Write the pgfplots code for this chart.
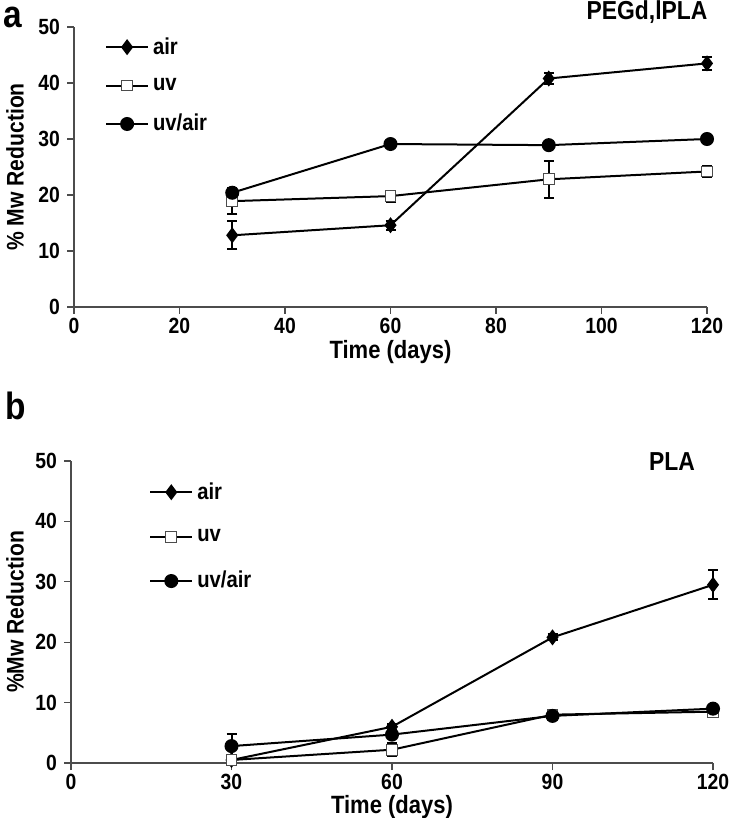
\documentclass[border=0pt]{standalone}
\usepackage{fontspec}
\setmainfont{Liberation Sans}[FakeStretch=0.88]
\usepackage{pgfplots}
\pgfplotsset{compat=1.18}
\pgfplotsset{
  mystyle/.style={
    scale only axis,
    xmin=0, xmax=120, ymin=0, ymax=50,
    axis x line=bottom, axis y line=left,
    axis line style={-, draw=gray!60!black, line width=0.6pt},
    tick align=outside,
    major tick length=3.5pt,
    tick style={draw=gray!60!black, line width=0.6pt},
    ytick={0,10,...,50},
    /pgf/number format/assume math mode=true,
    ticklabel style={font=\fontsize{11}{13}\selectfont\bfseries},
    xticklabel style={yshift=1.5pt},
    every axis x label/.style={at={(rel axis cs:0.5,0)}, anchor=center, font=\fontsize{12.5}{14}\selectfont\bfseries},
    every axis y label/.style={at={(rel axis cs:0,0.5)}, anchor=center, rotate=90, font=\fontsize{12}{14}\selectfont\bfseries},
    legend style={draw=none, fill=none, font=\fontsize{11.5}{13}\selectfont\bfseries, anchor=north west,
      legend cell align=left},
    legend image code/.code={
      \draw[#1] (0pt,0pt) -- (21pt,0pt);
      \draw[#1, only marks] plot coordinates {(10.5pt,0pt)};
    },
    clip=false,
  },
  ebar/.style={error bars/.cd, y dir=both, y explicit, error bar style={line width=1pt, black},
    error mark options={rotate=90, line width=1pt, mark size=2.5pt, black}},
  airst/.style={black, line width=1pt, mark=diamond*, mark size=3.2pt, mark options={solid, fill=black, draw=black}, ebar},
  uvst/.style={black, line width=1pt, mark=square*, mark size=2.7pt, mark options={solid, fill=white, draw=gray!60!black, line width=0.5pt}, ebar},
  uvairst/.style={black, line width=1pt, mark=*, mark size=3pt, mark options={solid, fill=black, draw=black}, ebar},
}
\begin{document}
\begin{tikzpicture}[x=1pt,y=1pt]
\useasboundingbox (0,0) rectangle (364,409);
% Panel a
\begin{axis}[mystyle,
  at={(37pt,255.5pt)}, anchor=south west,
  width=316.5pt, height=140pt,
  xtick={0,20,...,120},
  xlabel={Time (days)}, ylabel={\% Mw Reduction},
  x label style={yshift=-22.5pt},
  y label style={yshift=29.5pt},
  legend style={at={(0.039,0.993)}, row sep=6.5pt},
]
\addplot+[airst] coordinates {(30,12.8) +- (0,2.5) (60,14.6) +- (0,0.8) (90,40.8) +- (0,1.0) (120,43.5) +- (0,1.2)};
\addlegendentry{air}
\addplot+[uvst] coordinates {(30,18.9) +- (0,2.3) (60,19.8) +- (0,1.0) (90,22.8) +- (0,3.3) (120,24.2) +- (0,1.0)};
\addlegendentry{uv}
\addplot+[uvairst] coordinates {(30,20.4) +- (0,0.8) (60,29.1) +- (0,0.5) (90,28.9) +- (0,0.5) (120,30.0) +- (0,0.5)};
\addlegendentry{uv/air}
\end{axis}
% Panel b
\begin{axis}[mystyle,
  at={(35.5pt,27.5pt)}, anchor=south west,
  width=321pt, height=151pt,
  xtick={0,30,...,120},
  xlabel={Time (days)}, ylabel={\%Mw Reduction},
  x label style={yshift=-22pt},
  y label style={yshift=28pt},
  legend style={at={(0.112,0.957)}, row sep=9.5pt},
]
\addplot+[airst] coordinates {(30,0.5) +- (0,0.3) (60,6.0) +- (0,0.5) (90,20.8) +- (0,0.5) (120,29.5) +- (0,2.4)};
\addlegendentry{air}
\addplot+[uvst] coordinates {(30,0.5) +- (0,0.3) (60,2.2) +- (0,1.1) (90,8.0) +- (0,0.5) (120,8.5) +- (0,0.5)};
\addlegendentry{uv}
\addplot+[uvairst] coordinates {(30,2.8) +- (0,2.0) (60,4.7) +- (0,0.5) (90,7.8) +- (0,0.5) (120,9.0) +- (0,0.5)};
\addlegendentry{uv/air}
\end{axis}
\node[font=\fontsize{13}{15}\selectfont\bfseries] at (323.5pt,403pt) {PEGd,lPLA};
\node[font=\fontsize{13}{15}\selectfont\bfseries] at (336pt,178pt) {PLA};
\node[font=\fontsize{19}{21}\selectfont\bfseries, anchor=base west, inner sep=0pt] at (1.5pt,395pt) {a};
\node[font=\fontsize{19}{21}\selectfont\bfseries, anchor=base west, inner sep=0pt] at (2.5pt,199pt) {b};
\end{tikzpicture}
\end{document}
